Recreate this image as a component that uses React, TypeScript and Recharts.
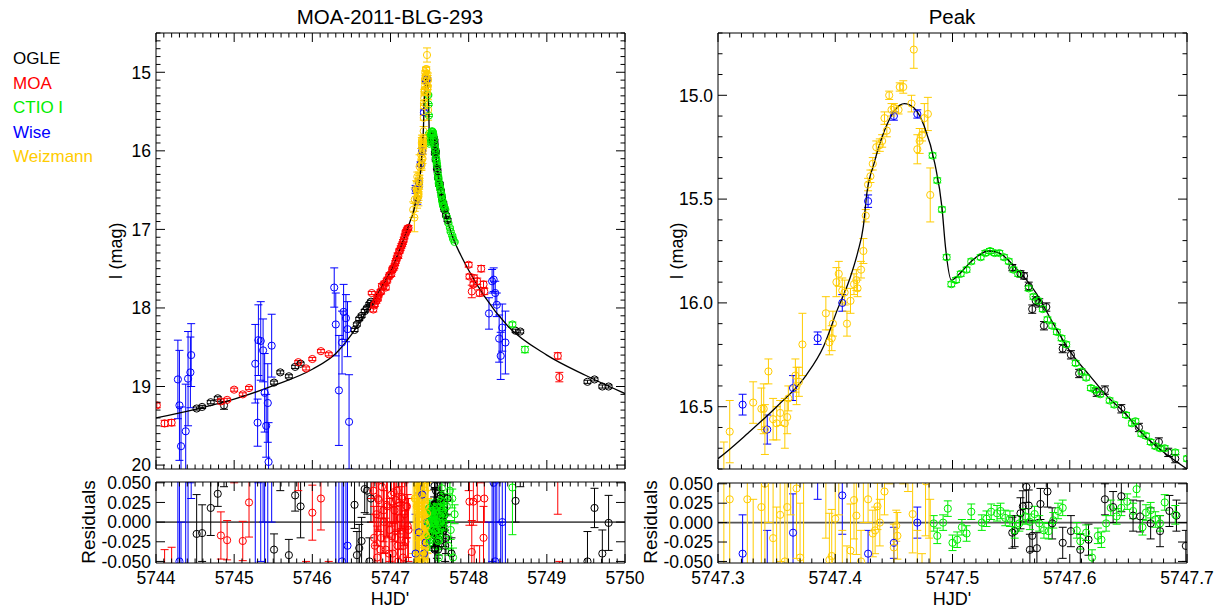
import React from "react";
import { ComposedChart, Scatter, Line, XAxis, YAxis, ErrorBar, ReferenceLine } from "recharts";

// [HJD', I mag, error]
type Row = [number, number, number];

const OGLE: Row[] = [
  [5744.52, 19.28, 0.02], [5744.59, 19.26, 0.02], [5744.70, 19.20, 0.02], [5744.79, 19.15, 0.02], [5744.87, 19.24, 0.05],
  [5745.51, 18.95, 0.02], [5745.59, 18.82, 0.02], [5745.70, 18.87, 0.02], [5745.78, 18.75, 0.02], [5745.85, 18.71, 0.02],
  [5746.54, 18.28, 0.02], [5746.57, 18.21, 0.02], [5746.60, 18.14, 0.02], [5746.63, 18.10, 0.02], [5746.67, 18.04, 0.02],
  [5746.70, 18.00, 0.02], [5746.73, 17.95, 0.02], [5746.75, 17.92, 0.02],
  [5747.551, 15.83, 0.015], [5747.558, 15.86, 0.015], [5747.561, 15.87, 0.015], [5747.565, 15.92, 0.02], [5747.568, 16.03, 0.02],
  [5747.571, 15.99, 0.02], [5747.574, 16.00, 0.02], [5747.578, 16.11, 0.02], [5747.580, 16.02, 0.02], [5747.594, 16.22, 0.02],
  [5747.601, 16.25, 0.02], [5747.608, 16.34, 0.02], [5747.623, 16.43, 0.02], [5747.630, 16.42, 0.02], [5747.644, 16.51, 0.02],
  [5747.659, 16.60, 0.02], [5747.676, 16.67, 0.02], [5747.684, 16.72, 0.02], [5747.690, 16.75, 0.02],
  [5747.71, 16.82, 0.02], [5747.73, 16.88, 0.02],
  [5748.60, 18.29, 0.02], [5748.66, 18.30, 0.02],
  [5749.52, 18.94, 0.02], [5749.61, 18.91, 0.02], [5749.71, 19.00, 0.02], [5749.79, 19.00, 0.02],
];

const MOA: Row[] = [
  [5744.01, 19.24, 0.03], [5744.11, 19.47, 0.04], [5744.20, 19.46, 0.04], [5744.83, 19.19, 0.03], [5744.91, 19.17, 0.02],
  [5745.00, 19.04, 0.02], [5745.11, 19.10, 0.02], [5745.19, 19.02, 0.02], [5745.82, 18.69, 0.02], [5745.92, 18.77, 0.02],
  [5746.00, 18.65, 0.02], [5746.11, 18.55, 0.02], [5746.21, 18.59, 0.02], [5746.76, 17.81, 0.02],
  [5746.78, 18.02, 0.03], [5746.79, 17.97, 0.03], [5746.80, 17.95, 0.03], [5746.82, 17.91, 0.03], [5746.83, 17.86, 0.03],
  [5746.84, 17.88, 0.03], [5746.85, 17.83, 0.03], [5746.87, 17.80, 0.03], [5746.88, 17.79, 0.03], [5746.89, 17.72, 0.03],
  [5746.91, 17.73, 0.03], [5746.92, 17.69, 0.03], [5746.94, 17.74, 0.03], [5746.95, 17.66, 0.03], [5746.96, 17.64, 0.03],
  [5746.98, 17.60, 0.03], [5746.99, 17.58, 0.03], [5747.01, 17.57, 0.03], [5747.02, 17.52, 0.03], [5747.03, 17.50, 0.03],
  [5747.04, 17.49, 0.03], [5747.05, 17.47, 0.03], [5747.06, 17.43, 0.03], [5747.07, 17.40, 0.03], [5747.08, 17.37, 0.03],
  [5747.09, 17.33, 0.03], [5747.10, 17.34, 0.03], [5747.11, 17.28, 0.03], [5747.12, 17.27, 0.03], [5747.13, 17.24, 0.03],
  [5747.14, 17.21, 0.03], [5747.15, 17.19, 0.03], [5747.16, 17.16, 0.03], [5747.17, 17.13, 0.03], [5747.18, 17.09, 0.03],
  [5747.19, 17.05, 0.03], [5747.20, 17.03, 0.03], [5747.21, 17.01, 0.03], [5747.22, 16.99, 0.03], [5747.23, 16.98, 0.03],
  [5748.00, 17.45, 0.03], [5748.01, 17.60, 0.03], [5748.04, 17.79, 0.08], [5748.06, 17.70, 0.03], [5748.07, 17.62, 0.04],
  [5748.11, 17.66, 0.04], [5748.14, 17.81, 0.04], [5748.16, 17.50, 0.04], [5748.19, 17.70, 0.04], [5748.20, 17.79, 0.04],
  [5749.14, 18.61, 0.04], [5749.16, 18.88, 0.06],
];

const CTIO: Row[] = [
  [5747.483, 15.29, 0.012], [5747.487, 15.41, 0.012], [5747.491, 15.55, 0.012], [5747.495, 15.78, 0.012], [5747.499, 15.91, 0.012],
  [5747.503, 15.89, 0.012], [5747.507, 15.86, 0.012], [5747.512, 15.84, 0.012], [5747.516, 15.80, 0.012], [5747.524, 15.78, 0.012],
  [5747.528, 15.76, 0.012], [5747.532, 15.75, 0.012], [5747.536, 15.76, 0.012], [5747.540, 15.76, 0.012], [5747.544, 15.78, 0.012],
  [5747.548, 15.80, 0.012], [5747.552, 15.84, 0.012], [5747.556, 15.86, 0.012], [5747.565, 15.93, 0.012], [5747.569, 15.97, 0.012],
  [5747.573, 15.99, 0.012], [5747.577, 16.03, 0.012], [5747.581, 16.08, 0.012], [5747.585, 16.11, 0.012], [5747.589, 16.14, 0.012],
  [5747.593, 16.17, 0.012], [5747.597, 16.20, 0.012], [5747.605, 16.29, 0.012], [5747.610, 16.33, 0.012], [5747.614, 16.36, 0.012],
  [5747.618, 16.41, 0.012], [5747.622, 16.42, 0.012], [5747.626, 16.44, 0.012], [5747.634, 16.47, 0.012], [5747.638, 16.49, 0.012],
  [5747.648, 16.54, 0.012], [5747.653, 16.58, 0.012], [5747.656, 16.57, 0.012], [5747.661, 16.63, 0.012], [5747.665, 16.64, 0.012],
  [5747.669, 16.67, 0.012], [5747.673, 16.69, 0.012], [5747.677, 16.70, 0.012], [5747.681, 16.70, 0.012],
  [5747.69, 16.72, 0.012], [5747.70, 16.75, 0.012], [5747.72, 16.84, 0.012], [5747.74, 16.92, 0.012], [5747.76, 16.98, 0.012],
  [5747.77, 17.03, 0.012], [5747.79, 17.08, 0.012], [5747.80, 17.12, 0.012], [5747.82, 17.16, 0.012],
  [5748.56, 18.21, 0.03], [5748.72, 18.53, 0.04],
];

const WISE: Row[] = [
  [5744.28, 18.91, 0.5], [5744.30, 19.24, 0.7], [5744.32, 19.76, 0.5], [5744.38, 19.57, 0.6], [5744.41, 18.90, 0.6],
  [5744.44, 18.82, 0.45], [5744.45, 18.60, 0.4],
  [5745.27, 18.71, 0.5], [5745.30, 19.46, 0.3], [5745.31, 18.41, 0.45], [5745.34, 18.42, 0.5], [5745.37, 18.54, 0.4],
  [5745.39, 19.08, 0.5], [5745.41, 19.50, 0.4], [5745.43, 19.21, 0.5], [5745.44, 19.96, 0.5], [5745.48, 18.48, 0.4],
  [5746.28, 17.74, 0.25], [5746.30, 18.21, 0.4], [5746.34, 19.05, 0.7], [5746.38, 18.44, 0.4], [5746.40, 18.05, 0.35],
  [5746.43, 18.13, 0.3], [5746.45, 18.27, 0.35], [5746.47, 19.45, 0.6],
  [5747.321, 16.49, 0.05], [5747.342, 16.61, 0.07], [5747.364, 16.41, 0.06], [5747.385, 16.17, 0.03], [5747.406, 16.00, 0.04],
  [5747.428, 15.51, 0.03], [5747.450, 15.10, 0.02], [5747.470, 15.09, 0.02],
  [5748.26, 18.07, 0.2], [5748.30, 17.66, 0.15], [5748.32, 17.64, 0.15], [5748.34, 17.81, 0.15], [5748.36, 17.96, 0.15],
  [5748.39, 18.39, 0.3], [5748.41, 18.61, 0.3], [5748.43, 18.25, 0.3], [5748.47, 18.44, 0.4],
];

const WEIZ: Row[] = [
  [5747.29, 16.75, 0.1], [5747.305, 16.85, 0.18], [5747.31, 16.62, 0.15],
  [5747.330, 16.48, 0.1], [5747.337, 16.51, 0.1], [5747.339, 16.51, 0.12], [5747.340, 16.61, 0.12], [5747.343, 16.33, 0.06],
  [5747.347, 16.56, 0.1], [5747.350, 16.58, 0.08], [5747.353, 16.53, 0.06], [5747.357, 16.58, 0.12], [5747.359, 16.55, 0.08],
  [5747.360, 16.46, 0.06], [5747.366, 16.35, 0.08], [5747.367, 16.40, 0.09], [5747.369, 16.38, 0.07], [5747.372, 16.20, 0.15],
  [5747.392, 16.05, 0.08], [5747.395, 16.19, 0.06], [5747.397, 16.17, 0.06], [5747.398, 16.10, 0.06], [5747.401, 15.90, 0.07],
  [5747.403, 15.86, 0.06], [5747.406, 15.94, 0.06], [5747.408, 15.95, 0.06], [5747.410, 16.10, 0.06], [5747.413, 15.99, 0.06],
  [5747.416, 15.91, 0.05], [5747.418, 15.89, 0.05], [5747.419, 15.93, 0.04], [5747.422, 15.84, 0.04], [5747.424, 15.75, 0.06],
  [5747.426, 15.58, 0.03], [5747.428, 15.43, 0.03], [5747.430, 15.39, 0.03], [5747.432, 15.33, 0.03], [5747.435, 15.25, 0.03],
  [5747.438, 15.24, 0.03], [5747.440, 15.22, 0.03], [5747.442, 15.11, 0.03], [5747.444, 15.17, 0.03], [5747.446, 15.00, 0.02],
  [5747.448, 15.07, 0.03], [5747.450, 15.06, 0.02], [5747.454, 15.07, 0.02], [5747.455, 14.96, 0.02], [5747.458, 14.96, 0.03],
  [5747.465, 15.04, 0.04], [5747.467, 14.78, 0.09], [5747.470, 15.26, 0.07], [5747.472, 15.22, 0.06], [5747.474, 15.19, 0.03],
  [5747.476, 15.11, 0.07], [5747.479, 15.09, 0.08], [5747.481, 15.48, 0.13],
];

// [HJD', residual, error]
const OGLE_RES: Row[] = [
  [5744.52, -0.015, 0.05], [5744.59, -0.014, 0.036], [5744.70, 0.018, 0.035], [5744.79, 0.036, 0.016], [5744.87, 0.075, 0.03],
  [5745.51, -0.035, 0.02], [5745.59, 0.07, 0.03], [5745.70, -0.042, 0.02], [5745.78, 0.034, 0.02], [5745.85, 0.020, 0.04],
  [5746.54, 0.022, 0.03], [5746.57, -0.042, 0.03], [5746.60, -0.033, 0.03], [5746.63, -0.024, 0.03], [5746.67, 0.042, 0.03],
  [5746.70, 0.040, 0.03], [5746.73, -0.05, 0.03], [5746.75, 0.03, 0.03],
  [5747.551, -0.013, 0.02], [5747.553, -0.011, 0.02], [5747.558, 0.012, 0.02], [5747.560, 0.021, 0.02], [5747.563, 0.046, 0.02],
  [5747.565, 0.022, 0.02], [5747.566, -0.035, 0.02], [5747.568, -0.017, 0.02], [5747.572, -0.033, 0.02], [5747.575, 0.024, 0.02],
  [5747.581, 0.040, 0.02], [5747.585, -0.001, 0.02], [5747.594, -0.026, 0.02], [5747.601, -0.011, 0.02], [5747.609, -0.035, 0.02],
  [5747.616, -0.022, 0.02], [5747.630, 0.030, 0.02], [5747.637, 0.020, 0.02], [5747.644, 0.034, 0.02], [5747.654, 0.009, 0.02],
  [5747.660, 0.008, 0.02], [5747.669, -0.001, 0.02], [5747.677, -0.011, 0.02], [5747.685, 0.015, 0.02], [5747.691, 0.009, 0.02],
  [5747.699, -0.030, 0.02],
  [5747.71, -0.02, 0.02], [5747.73, 0.03, 0.02], [5747.78, -0.04, 0.02],
  [5748.60, 0.027, 0.027], [5748.66, 0.065, 0.02],
  [5749.52, -0.05, 0.038], [5749.61, 0.018, 0.025], [5749.71, -0.040, 0.03], [5749.79, -0.001, 0.035],
];

const MOA_RES: Row[] = [
  [5744.01, 0.16, 0.03], [5744.11, -0.08, 0.045], [5744.20, -0.08, 0.048], [5744.83, -0.017, 0.03], [5744.91, -0.023, 0.025],
  [5745.00, 0.07, 0.02], [5745.11, -0.024, 0.025], [5745.19, 0.025, 0.044], [5745.82, 0.065, 0.025], [5745.92, -0.07, 0.02],
  [5746.00, 0.012, 0.035], [5746.11, 0.030, 0.04], [5746.21, -0.07, 0.02], [5746.76, 0.06, 0.03],
  [5746.78, 0.040, 0.04], [5746.79, -0.020, 0.04], [5746.80, -0.030, 0.04], [5746.82, 0.010, 0.04], [5746.83, -0.045, 0.04],
  [5746.84, 0.030, 0.04], [5746.85, 0.028, 0.04], [5746.87, -0.035, 0.04], [5746.88, -0.020, 0.04], [5746.89, 0.045, 0.04],
  [5746.91, 0.015, 0.04], [5746.92, 0.000, 0.04], [5746.94, -0.035, 0.04], [5746.95, 0.022, 0.04], [5746.96, 0.020, 0.04],
  [5746.98, -0.040, 0.04], [5746.99, -0.010, 0.04], [5747.01, 0.035, 0.04], [5747.02, -0.018, 0.04], [5747.03, -0.040, 0.04],
  [5747.04, 0.038, 0.04], [5747.05, 0.015, 0.04], [5747.06, -0.020, 0.04], [5747.07, 0.028, 0.04], [5747.08, 0.040, 0.04],
  [5747.09, -0.030, 0.04], [5747.10, -0.050, 0.04], [5747.11, 0.025, 0.04], [5747.12, 0.005, 0.04], [5747.13, -0.015, 0.04],
  [5747.14, 0.032, 0.04], [5747.15, 0.030, 0.04], [5747.16, -0.045, 0.04], [5747.17, -0.030, 0.04], [5747.18, 0.010, 0.04],
  [5747.19, -0.025, 0.04], [5747.20, 0.020, 0.04], [5747.21, 0.020, 0.04], [5747.22, -0.005, 0.04], [5747.23, -0.010, 0.04],
  [5748.00, 0.07, 0.03], [5748.01, 0.026, 0.03], [5748.04, -0.038, 0.04], [5748.06, 0.026, 0.03], [5748.07, -0.06, 0.03],
  [5748.11, 0.030, 0.03], [5748.14, -0.07, 0.04], [5748.16, 0.08, 0.03], [5748.19, -0.020, 0.04], [5748.20, 0.030, 0.03],
  [5749.14, 0.08, 0.07], [5749.16, -0.07, 0.02],
];

const CTIO_RES: Row[] = [
  [5747.484, -0.001, 0.01], [5747.487, -0.017, 0.01], [5747.492, 0.000, 0.01], [5747.496, 0.018, 0.01], [5747.500, -0.026, 0.01],
  [5747.504, -0.022, 0.01], [5747.508, -0.006, 0.01], [5747.512, -0.014, 0.01], [5747.516, 0.014, 0.01], [5747.525, 0.000, 0.01],
  [5747.529, 0.005, 0.01], [5747.533, 0.014, 0.01], [5747.538, 0.012, 0.01], [5747.541, 0.015, 0.01], [5747.545, 0.006, 0.01],
  [5747.549, 0.005, 0.01], [5747.553, -0.010, 0.01], [5747.557, -0.001, 0.01], [5747.562, 0.008, 0.01], [5747.566, 0.001, 0.01],
  [5747.570, 0.011, 0.01], [5747.574, -0.001, 0.01], [5747.578, -0.010, 0.01], [5747.582, -0.011, 0.01], [5747.586, 0.003, 0.01],
  [5747.590, 0.015, 0.01], [5747.594, 0.019, 0.01], [5747.606, -0.010, 0.01], [5747.609, -0.024, 0.01], [5747.614, -0.013, 0.01],
  [5747.619, -0.045, 0.01], [5747.624, -0.017, 0.01], [5747.627, -0.022, 0.01], [5747.631, -0.001, 0.01], [5747.635, 0.019, 0.01],
  [5747.640, 0.008, 0.01], [5747.644, 0.019, 0.01], [5747.649, 0.027, 0.01], [5747.654, 0.015, 0.01], [5747.657, 0.043, 0.01],
  [5747.662, -0.006, 0.01], [5747.665, 0.013, 0.01], [5747.669, 0.016, 0.01], [5747.673, 0.004, 0.01], [5747.677, -0.001, 0.01],
  [5747.681, 0.026, 0.01],
  [5747.69, 0.010, 0.012], [5747.72, 0.020, 0.012], [5747.74, -0.030, 0.012], [5747.76, 0.040, 0.012], [5747.77, -0.010, 0.012],
  [5747.79, 0.030, 0.012], [5747.80, -0.045, 0.012], [5747.82, 0.010, 0.012],
  [5748.56, 0.044, 0.06], [5748.72, 0.09, 0.02],
];

const WISE_RES: Row[] = [
  [5744.28, 0.3, 0.5], [5744.30, -0.05, 0.7], [5744.32, -0.5, 0.5], [5744.38, -0.3, 0.6], [5744.41, 0.4, 0.6],
  [5744.44, 0.5, 0.45], [5744.45, 0.45, 0.42],
  [5745.27, 0.2, 0.5], [5745.30, -0.5, 0.3], [5745.31, 0.5, 0.45], [5745.34, 0.45, 0.5], [5745.37, 0.4, 0.4],
  [5745.39, -0.1, 0.5], [5745.41, -0.5, 0.4], [5745.43, -0.2, 0.5], [5745.44, -0.9, 0.5], [5745.48, 0.4, 0.4],
  [5746.28, 0.6, 0.25], [5746.30, 0.1, 0.4], [5746.34, -0.5, 0.7], [5746.38, -0.05, 0.4], [5746.40, 0.2, 0.35],
  [5746.43, 0.1, 0.3], [5746.45, -0.03, 0.35], [5746.47, -1.0, 0.6],
  [5747.321, -0.04, 0.05], [5747.342, -0.06, 0.05], [5747.364, -0.013, 0.05], [5747.385, 0.07, 0.04], [5747.406, 0.035, 0.05],
  [5747.428, -0.040, 0.03], [5747.450, -0.026, 0.02], [5747.470, 0.000, 0.02],
  [5748.26, -0.2, 0.2], [5748.30, 0.1, 0.15], [5748.32, 0.05, 0.15], [5748.34, -0.05, 0.15], [5748.36, -0.1, 0.15],
  [5748.39, 0.3, 0.3], [5748.41, -0.3, 0.3], [5748.43, 0.0, 0.3], [5748.47, -0.2, 0.4],
];

const WEIZ_RES: Row[] = [
  [5747.29, 0.06, 0.1], [5747.305, -0.08, 0.18], [5747.31, 0.03, 0.15],
  [5747.325, 0.03, 0.1], [5747.330, -0.07, 0.1], [5747.337, 0.02, 0.1], [5747.340, 0.050, 0.12], [5747.343, 0.06, 0.06],
  [5747.347, -0.02, 0.1], [5747.350, -0.06, 0.08], [5747.353, 0.01, 0.06], [5747.357, -0.05, 0.12], [5747.359, 0.02, 0.08],
  [5747.362, 0.07, 0.06], [5747.367, 0.044, 0.09], [5747.370, -0.045, 0.07], [5747.373, 0.08, 0.15], [5747.392, 0.06, 0.08],
  [5747.395, -0.048, 0.06], [5747.397, -0.043, 0.06], [5747.400, 0.005, 0.06], [5747.403, 0.07, 0.06], [5747.406, -0.07, 0.06],
  [5747.410, -0.09, 0.06], [5747.413, -0.036, 0.06], [5747.416, 0.029, 0.05], [5747.418, 0.009, 0.05], [5747.422, -0.050, 0.04],
  [5747.424, 0.06, 0.06], [5747.428, 0.030, 0.03], [5747.432, -0.014, 0.03], [5747.434, -0.010, 0.03], [5747.436, 0.021, 0.03],
  [5747.438, 0.000, 0.03], [5747.442, 0.040, 0.03], [5747.446, 0.07, 0.02], [5747.450, -0.032, 0.03], [5747.452, -0.004, 0.02],
  [5747.453, -0.017, 0.03], [5747.458, 0.08, 0.03], [5747.462, 0.08, 0.04], [5747.466, 0.011, 0.05], [5747.470, -0.08, 0.07],
  [5747.474, -0.07, 0.03], [5747.477, 0.053, 0.07], [5747.480, 0.06, 0.08], [5747.481, -0.10, 0.13],
];

// best-fit model curve [HJD', I mag]
const MODEL: [number, number][] = [
  [5744.0, 19.40], [5744.5, 19.29], [5745.0, 19.16], [5745.5, 18.99], [5746.0, 18.78], [5746.3, 18.58], [5746.5, 18.34],
  [5746.7, 18.03], [5746.9, 17.71], [5747.0, 17.53], [5747.1, 17.30], [5747.2, 17.04], [5747.25, 16.90], [5747.30, 16.75],
  [5747.326, 16.625], [5747.350, 16.50], [5747.375, 16.35], [5747.390, 16.21], [5747.402, 16.03], [5747.412, 15.89],
  [5747.419, 15.76], [5747.424, 15.63], [5747.427, 15.47], [5747.433, 15.33], [5747.442, 15.17], [5747.451, 15.07],
  [5747.459, 15.04], [5747.467, 15.06], [5747.476, 15.15], [5747.485, 15.33], [5747.491, 15.54], [5747.494, 15.73],
  [5747.499, 15.89], [5747.506, 15.86], [5747.516, 15.80], [5747.531, 15.75], [5747.540, 15.76], [5747.552, 15.82],
  [5747.571, 15.95], [5747.586, 16.10], [5747.601, 16.24], [5747.617, 16.35], [5747.632, 16.45], [5747.647, 16.53],
  [5747.662, 16.63], [5747.678, 16.71], [5747.70, 16.80], [5747.75, 16.96], [5747.80, 17.11], [5747.90, 17.33],
  [5748.0, 17.52], [5748.2, 17.85], [5748.5, 18.23], [5749.0, 18.60], [5749.5, 18.86], [5750.0, 19.09],
];

// tick labels
const X_MAJOR_FULL = [5744, 5745, 5746, 5747, 5748, 5749, 5750];
const X_MAJOR_PEAK = [5747.3, 5747.4, 5747.5, 5747.6, 5747.7];
const Y_MAJOR_FULL = [15, 16, 17, 18, 19, 20];
const Y_MAJOR_PEAK = [15.0, 15.5, 16.0, 16.5];
const Y_MAJOR_RES = [-0.05, -0.025, 0, 0.025, 0.05];

const SERIES = [
  { name: "OGLE", color: "#000000", mag: OGLE, res: OGLE_RES },
  { name: "MOA", color: "#ff0000", mag: MOA, res: MOA_RES },
  { name: "Wise", color: "#0000ff", mag: WISE, res: WISE_RES },
  { name: "CTIO I", color: "#00ee00", mag: CTIO, res: CTIO_RES },
  { name: "Weizmann", color: "#ffcc00", mag: WEIZ, res: WEIZ_RES },
];
const LEGEND = ["OGLE", "MOA", "CTIO I", "Wise", "Weizmann"];

const FONT = "'Liberation Sans', Arial, Helvetica, sans-serif";
const TICK_FS = 17.5;

function steps(a: number, b: number, step: number) {
  const out: number[] = [];
  const n = Math.round((b - a) / step);
  for (let i = 0; i <= n; i++) out.push(+(a + i * step).toFixed(4));
  return out;
}

const pts = (rows: Row[]) => rows.map(([t, v, e]) => ({ t, v, e }));
const modelPts = MODEL.map(([t, v]) => ({ t, v }));

// IDL style ticks: pointing inward, long for majors, short for minors
function makeTick(side: string, majors: number[], fmt: ((v: number) => string) | null) {
  return (p: any) => {
    const v = p.payload.value;
    const isMajor = majors.some((m) => Math.abs(m - v) < 1e-6);
    const len = isMajor ? 9 : 4.5;
    const { x, y } = p;
    let l = { x1: x, y1: y, x2: x, y2: y };
    if (side === "bottom") l = { x1: x, y1: y, x2: x, y2: y - len };
    if (side === "top") l = { x1: x, y1: y, x2: x, y2: y + len };
    if (side === "left") l = { x1: x, y1: y, x2: x + len, y2: y };
    if (side === "right") l = { x1: x, y1: y, x2: x - len, y2: y };
    return (
      <g>
        <line {...l} stroke="#000" strokeWidth={1} />
        {fmt && isMajor && side === "bottom" && (
          <text x={x} y={y + 21} textAnchor="middle" fontSize={TICK_FS} fontFamily={FONT} fill="#000">
            {fmt(v)}
          </text>
        )}
        {fmt && isMajor && side === "left" && (
          <text x={x - 5} y={y} dy="0.36em" textAnchor="end" fontSize={TICK_FS} fontFamily={FONT} fill="#000">
            {fmt(v)}
          </text>
        )}
      </g>
    );
  };
}

function Ring(color: string) {
  return (p: any) => <circle cx={p.cx} cy={p.cy} r={3.6} fill="none" stroke={color} strokeWidth={1} />;
}

interface PanelProps {
  id: string;
  width: number;
  height: number;
  margin: { top: number; right: number; bottom: number; left: number };
  xDomain: [number, number];
  yDomain: [number, number];
  xTicks: number[];
  xMajor: number[];
  xFmt: ((v: number) => string) | null;
  yTicks: number[];
  yMajor: number[];
  yFmt: (v: number) => string;
  field: "mag" | "res";
}

function Panel(props: PanelProps) {
  const { id, width, height, margin, xDomain, yDomain, xTicks, xMajor, xFmt, yTicks, yMajor, yFmt, field } = props;
  const isMag = field === "mag";
  const axisLine = { stroke: "#000", strokeWidth: 1 };
  // plot area in this chart's own pixels (axes are 1px thick)
  const px = margin.left + 1;
  const py = margin.top + 1;
  const pw = width - margin.left - margin.right - 2;
  const ph = height - margin.top - margin.bottom - 2;
  return (
    <div className={`wrap-${id}`}>
      <style>{`.wrap-${id} .recharts-scatter, .wrap-${id} .recharts-line, .wrap-${id} .recharts-errorBars { clip-path: url(#clip-${id}); }`}</style>
      <svg width={0} height={0} style={{ position: "absolute" }}>
        <defs>
          <clipPath id={`clip-${id}`}>
            <rect x={px} y={py} width={pw} height={ph} />
          </clipPath>
        </defs>
      </svg>
      <ComposedChart width={width} height={height} margin={margin}>
        <XAxis xAxisId={0} type="number" dataKey="t" domain={xDomain} allowDataOverflow ticks={xTicks} interval={0}
          height={1} tickSize={0} tickMargin={0} tickLine={false} axisLine={axisLine}
          tick={makeTick("bottom", xMajor, xFmt)} />
        <XAxis xAxisId="top" orientation="top" type="number" dataKey="t" domain={xDomain} allowDataOverflow ticks={xTicks}
          interval={0} height={1} tickSize={0} tickMargin={0} tickLine={false} axisLine={axisLine}
          tick={makeTick("top", xMajor, null)} />
        <YAxis yAxisId={0} type="number" dataKey="v" domain={yDomain} allowDataOverflow reversed={isMag} ticks={yTicks}
          interval={0} width={1} tickSize={0} tickMargin={0} tickLine={false} axisLine={axisLine}
          tick={makeTick("left", yMajor, yFmt)} />
        <YAxis yAxisId="right" orientation="right" type="number" dataKey="v" domain={yDomain} allowDataOverflow
          reversed={isMag} ticks={yTicks} interval={0} width={1} tickSize={0} tickMargin={0} tickLine={false}
          axisLine={axisLine} tick={makeTick("right", yMajor, null)} />
        {!isMag && <ReferenceLine y={0} stroke="#555" strokeWidth={1.6} />}
        {SERIES.map((s) => (
          <Scatter key={s.name} name={s.name} data={pts(isMag ? s.mag : s.res)} dataKey="v"
            shape={Ring(s.color)} isAnimationActive={false}>
            <ErrorBar dataKey="e" direction="y" width={4} stroke={s.color} strokeWidth={1} isAnimationActive={false} />
          </Scatter>
        ))}
        {isMag && (
          <Line data={modelPts} dataKey="v" type="monotone" stroke="#000" strokeWidth={1.3} dot={false}
            activeDot={false} isAnimationActive={false} />
        )}
      </ComposedChart>
    </div>
  );
}

export default function App() {
  const fmtInt = (v: number) => String(Math.round(v));
  const fmt1 = (v: number) => v.toFixed(1);
  const fmt3 = (v: number) => v.toFixed(3);
  // margins leave room for the 1px axes so the plot frames land where the reference has them
  const mainMargin = { top: 32, right: 34, bottom: 10, left: 155 };
  const resMargin = { top: 11, right: 34, bottom: 47, left: 155 };
  const peakMain = { top: 32, right: 36, bottom: 10, left: 77 };
  const peakRes = { top: 12, right: 36, bottom: 47, left: 77 };
  const txt = { fontFamily: FONT, fill: "#000" };
  return (
    <div style={{ position: "absolute", left: 0, top: 0, width: 1224, height: 611, background: "#fff" }}>
      <div style={{ position: "absolute", left: 0, top: 0 }}>
        <Panel id="fm" width={660} height={480} margin={mainMargin} xDomain={[5744, 5750]} yDomain={[14.5, 20.05]}
          xTicks={steps(5744, 5750, 0.1)} xMajor={X_MAJOR_FULL} xFmt={null}
          yTicks={steps(14.5, 20.0, 0.1)} yMajor={Y_MAJOR_FULL} yFmt={fmtInt} field="mag" />
      </div>
      <div style={{ position: "absolute", left: 0, top: 470 }}>
        <Panel id="fr" width={660} height={141} margin={resMargin} xDomain={[5744, 5750]} yDomain={[-0.052, 0.051]}
          xTicks={steps(5744, 5750, 0.1)} xMajor={X_MAJOR_FULL} xFmt={fmtInt}
          yTicks={Y_MAJOR_RES} yMajor={Y_MAJOR_RES} yFmt={fmt3} field="res" />
      </div>
      <div style={{ position: "absolute", left: 640, top: 0 }}>
        <Panel id="pm" width={584} height={480} margin={peakMain} xDomain={[5747.3, 5747.7]} yDomain={[14.7, 16.8]}
          xTicks={steps(5747.3, 5747.7, 0.01)} xMajor={X_MAJOR_PEAK} xFmt={null}
          yTicks={steps(14.7, 16.8, 0.1)} yMajor={Y_MAJOR_PEAK} yFmt={fmt1} field="mag" />
      </div>
      <div style={{ position: "absolute", left: 640, top: 470 }}>
        <Panel id="pr" width={584} height={141} margin={peakRes} xDomain={[5747.3, 5747.7]} yDomain={[-0.052, 0.051]}
          xTicks={steps(5747.3, 5747.7, 0.01)} xMajor={X_MAJOR_PEAK} xFmt={fmt1}
          yTicks={Y_MAJOR_RES} yMajor={Y_MAJOR_RES} yFmt={fmt3} field="res" />
      </div>
      <svg width={1224} height={611} style={{ position: "absolute", left: 0, top: 0, pointerEvents: "none" }}>
        <text x={390} y={24} textAnchor="middle" fontSize={20.5} {...txt}>MOA-2011-BLG-293</text>
        <text x={952} y={24} textAnchor="middle" fontSize={20.5} {...txt}>Peak</text>
        {LEGEND.map((name, i) => {
          const s = SERIES.find((d) => d.name === name)!;
          return (
            <text key={name} x={13} y={64 + i * 24.6} fontSize={17} fontFamily={FONT} fill={s.color}>
              {name}
            </text>
          );
        })}
        <text transform="rotate(-90 116 251)" x={116} y={251} dy="0.36em" textAnchor="middle" fontSize={18} {...txt}>I (mag)</text>
        <text transform="rotate(-90 677 251)" x={677} y={251} dy="0.36em" textAnchor="middle" fontSize={18} {...txt}>I (mag)</text>
        <text transform="rotate(-90 88 522)" x={88} y={522} dy="0.36em" textAnchor="middle" fontSize={19} {...txt}>Residuals</text>
        <text transform="rotate(-90 650 522)" x={650} y={522} dy="0.36em" textAnchor="middle" fontSize={19} {...txt}>Residuals</text>
        <text x={390} y={605} textAnchor="middle" fontSize={18} {...txt}>HJD'</text>
        <text x={952} y={605} textAnchor="middle" fontSize={18} {...txt}>HJD'</text>
      </svg>
    </div>
  );
}
